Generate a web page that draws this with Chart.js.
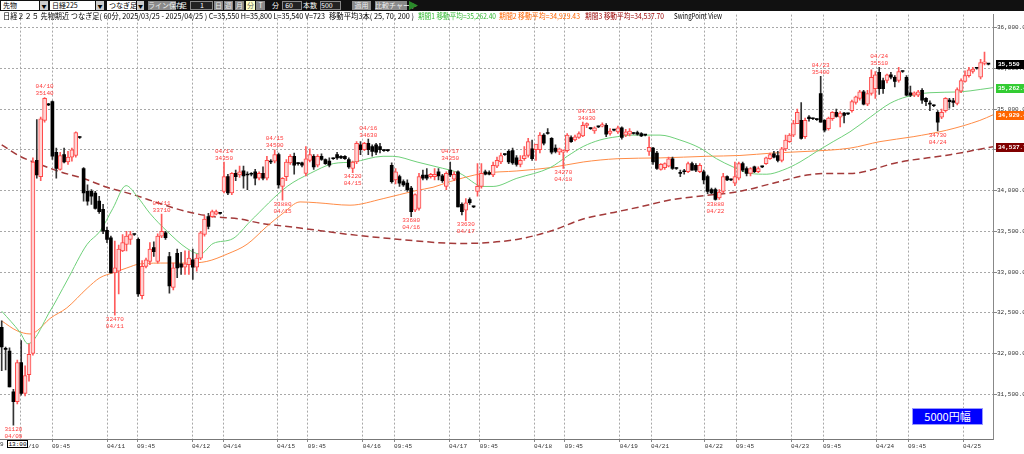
<!DOCTYPE html>
<html>
<head>
<meta charset="utf-8">
<script src="https://cdn.jsdelivr.net/npm/chart.js@4.4.1/dist/chart.umd.min.js"></script>
<style>
html, body { margin: 0; padding: 0; background: #fff; width: 1024px; height: 454px; overflow: hidden; font-family: "Noto Sans CJK JP", sans-serif; }
#tb { position: absolute; left: 0; top: 0; width: 1024px; height: 11px; background: #111; }
#tb div { position: absolute; top: 1px; height: 9px; font-size: 7px; line-height: 9px; white-space: nowrap; box-sizing: border-box; }
#tb .sel { background: #fff; color: #000; padding-left: 2px; }
#tb .dd { background: #ccc; color: #000; text-align: center; font-size: 5px; }
#tb .btn { background: #8a8a8a; color: #eee; text-align: center; }
#tb .on { background: #ffffc8; color: #666; text-align: center; }
#tb .lab { color: #fff; }
#tb .inp { background: #222; border: 1px solid #888; color: #fff; text-align: right; line-height: 7px; padding-right: 8px; }
#wrap { position: absolute; left: 0; top: 11px; width: 1024px; height: 443px; }
.hdr { position: absolute; top: 11px; font-size: 8px; line-height: 9px; white-space: nowrap; transform-origin: 0 0; }
#box13 { position: absolute; left: 7px; top: 440px; width: 21px; height: 8px; border: 1px solid #000; background: #fff; font: 6px "Liberation Mono", monospace; line-height: 8px; text-align: center; box-sizing: border-box; }
#nine { position: absolute; left: 0; top: 441px; font: 6px "Liberation Mono", monospace; color: #333; }
#haba { position: absolute; left: 912px; top: 408px; width: 71px; height: 17px; background: #0000ff; color: #fff; border: 1px solid #9999ff; box-sizing: border-box; font-size: 11px; line-height: 15px; text-align: center; }
</style>
</head>
<body>
<div id="tb">
  <div class="sel" style="left:1px;width:38px">先物</div>
  <div class="dd" style="left:40px;width:8px">▼</div>
  <div class="sel" style="left:50px;width:45px">日経225</div>
  <div class="dd" style="left:96px;width:8px">▼</div>
  <div class="sel" style="left:107px;width:29px">つなぎ足</div>
  <div class="dd" style="left:137px;width:7px">▼</div>
  <div class="btn" style="left:148px;width:28px">ライン保存</div>
  <div class="lab" style="left:180px">足</div>
  <div class="inp" style="left:190px;width:23px">1</div>
  <div class="btn" style="left:214px;width:9px">日</div>
  <div class="btn" style="left:224px;width:9px">週</div>
  <div class="btn" style="left:235px;width:9px">月</div>
  <div class="on" style="left:246px;width:9px">分</div>
  <div class="btn" style="left:256px;width:9px">T</div>
  <div class="lab" style="left:272px">分</div>
  <div class="inp" style="left:282px;width:20px">60</div>
  <div class="lab" style="left:303px">本数</div>
  <div class="inp" style="left:320px;width:21px">500</div>
  <div class="btn" style="left:352px;width:19px">適用</div>
  <div class="btn" style="left:375px;width:32px">比較チャート</div>
  <div style="left:409px;width:9px;background:#2a8a2a;clip-path:polygon(0 0,100% 50%,0 100%)"></div>
</div>

<div id="wrap"><canvas id="c" width="1024" height="443"></canvas></div>

<span class="hdr" data-x0="3" data-x1="325" style="color:#000">日経２２５ 先物期近 つなぎ足( 60分, 2025/03/25 - 2025/04/25 ) C=35,550 H=35,800 L=35,540 V=723</span>
<span class="hdr" data-x0="329" data-x1="414" style="color:#000">移動平均3本( 25, 70, 200 )</span>
<span class="hdr" data-x0="418" data-x1="496" style="color:#33bb33">期間1 移動平均=35,262.40</span>
<span class="hdr" data-x0="499" data-x1="580" style="color:#ff6600">期間2 移動平均=34,929.43</span>
<span class="hdr" data-x0="585" data-x1="664" style="color:#990000">期間3 移動平均=34,537.70</span>
<span class="hdr" data-x0="674" data-x1="722" style="color:#000">SwingPoint View</span>

<div id="nine">9</div>
<div id="box13">13:00</div>
<div id="haba">5000円幅</div>

<script>
// 60-minute candles, oldest first (one entry per bar)
const opens = [
  32320,32050,32030,31530,31410,31890,31510,31740,32000,34370,34170,34860,35050,35090,34470,34260,34440,34350,34410,34430,
  34650,34270,33990,33990,33970,33870,33770,33510,33420,32990,33010,33260,33340,33400,33460,33400,32710,33070,33130,33300,
  33130,33440,33480,33190,32810,33230,33100,33060,33090,33150,33060,33170,33460,33680,33680,33710,33720,33990,34170,33970,
  34210,34190,34240,34190,34200,34230,34150,34210,34150,34350,34360,34440,34050,34170,34340,34420,34330,34340,34210,34370,
  34420,34310,34420,34380,34360,34390,34440,34420,34420,34380,34270,34350,34560,34500,34580,34540,34560,34540,34490,34490,
  34310,34130,34170,34110,34090,34030,33760,33780,34190,34190,34170,34170,34230,34180,34050,34250,34140,34230,33830,33760,
  33890,33800,33990,34050,34230,34220,34190,34300,34350,34440,34480,34490,34400,34320,34390,34430,34510,34500,34500,34680,
  34700,34640,34520,34470,34470,34490,34650,34620,34650,34670,34800,34760,34730,34780,34790,34800,34700,34740,34720,34770,
  34680,34690,34700,34710,34700,34680,34480,34520,34460,34260,34280,34300,34390,34270,34210,34230,34230,34330,34310,34230,
  34230,34170,34010,34010,33910,33990,34170,34130,34090,34150,34330,34270,34210,34290,34230,34290,34330,34390,34450,34430,
  34370,34510,34600,34680,34820,34860,34660,34900,34880,34870,35190,34860,34760,34880,34960,34900,34950,34940,34980,35080,
  35130,35210,35060,35190,35250,35450,35350,35350,35420,35390,35350,35460,35390,35200,35170,35170,35230,35130,35060,35040,
  34960,34900,34980,35110,35100,35070,35220,35340,35410,35460,35500,35390,35560,35550
];
const highs = [
  32400,32080,32070,31560,31920,32160,31850,32120,34400,34870,34900,35140,35070,35100,34520,34470,34520,34480,34520,34720,
  34660,34280,34070,34010,33990,33930,33830,33550,33440,33380,33330,33460,33500,33500,33470,33420,33140,33170,33360,33370,
  33470,33710,33500,33240,33110,33280,33240,33260,33260,33280,33220,33500,33690,33720,33760,33760,33730,34350,34200,34220,
  34250,34300,34300,34230,34220,34260,34230,34290,34420,34380,34500,34460,34160,34380,34440,34460,34340,34350,34540,34510,
  34440,34440,34450,34390,34400,34400,34470,34430,34430,34400,34360,34600,34600,34590,34630,34560,34580,34580,34500,34500,
  34340,34270,34190,34130,34130,34050,33960,34210,34250,34270,34210,34270,34270,34200,34230,34350,34230,34240,33850,33900,
  33910,33810,34330,34330,34250,34240,34350,34410,34460,34450,34500,34520,34430,34430,34540,34640,34620,34560,34710,34700,
  34760,34650,34560,34520,34500,34700,34670,34680,34720,34840,34830,34770,34780,34790,34830,34820,34760,34750,34790,34780,
  34750,34760,34710,34730,34710,34690,34660,34530,34480,34330,34340,34410,34410,34280,34250,34260,34350,34350,34330,34330,
  34250,34190,34030,34030,34010,34210,34180,34140,34350,34350,34350,34290,34280,34300,34290,34300,34410,34460,34480,34480,
  34530,34680,34700,34860,35000,35080,34890,34920,34890,34880,35400,34870,34900,34970,35000,34970,34960,34950,35110,35160,
  35230,35230,35230,35480,35460,35510,35380,35430,35450,35410,35510,35470,35410,35280,35210,35230,35250,35140,35100,35050,
  34980,35000,35140,35130,35130,35260,35370,35470,35510,35510,35510,35610,35700,35560
];
const lows = [
  31790,31800,31590,31120,31380,31490,31480,31660,31980,34150,34120,34840,35040,34380,34150,34250,34340,34320,34360,34410,
  34640,33870,33820,33830,33770,33720,33470,33360,32990,32470,32730,33250,33260,33340,33450,32700,32670,33050,33090,33190,
  33110,33420,33400,32740,32780,32930,32970,32970,32970,32910,33010,33150,33440,33530,33670,33700,33710,33970,33950,33950,
  34120,34160,34030,34010,34180,34070,34130,34130,34130,34330,34340,34030,33880,34120,34320,34200,34310,34290,34180,34350,
  34260,34290,34370,34320,34290,34380,34380,34390,34380,34270,34220,34330,34440,34490,34440,34420,34440,34460,34480,34480,
  34090,34080,34050,34050,33990,33680,33740,33760,34130,34130,34150,34130,34130,34100,34010,34170,34120,33800,33700,33630,
  33830,33790,33930,34030,34190,34190,34170,34280,34330,34430,34330,34320,34300,34290,34370,34410,34370,34370,34460,34560,
  34690,34450,34460,34440,34270,34470,34590,34610,34640,34660,34770,34750,34700,34770,34780,34660,34680,34730,34700,34630,
  34660,34670,34690,34680,34660,34670,34430,34320,34260,34250,34260,34290,34260,34260,34170,34200,34220,34250,34230,34220,
  34080,33960,33960,33880,33890,33970,34120,34120,34060,34130,34230,34180,34180,34220,34220,34280,34320,34380,34400,34350,
  34350,34490,34590,34660,34820,34630,34640,34850,34870,34860,34840,34720,34740,34860,34900,34780,34830,34930,34960,35060,
  35110,35050,35040,35170,35130,35180,35190,35320,35370,35270,35330,35450,35160,35150,35150,35150,35070,35040,34980,35030,
  34730,34880,34960,35010,35030,35050,35200,35330,35390,35440,35490,35370,35540,35540
];
const closes = [
  32080,32050,31590,31410,31890,31510,31730,31990,34350,34190,34880,35130,35050,34420,34270,34430,34350,34410,34500,34710,
  34650,33970,33870,33930,33780,33740,33500,33400,32990,33050,33280,33360,33440,33460,33460,32730,33070,33150,33280,33250,
  33440,33500,33420,32830,33050,33050,33060,33100,33170,33060,33170,33480,33650,33560,33740,33740,33720,34170,33970,34210,
  34170,34230,34180,34190,34200,34150,34210,34150,34370,34350,34440,34070,34150,34350,34420,34310,34330,34310,34390,34440,
  34290,34420,34380,34330,34310,34390,34400,34400,34390,34290,34350,34580,34500,34580,34500,34480,34470,34500,34490,34490,
  34110,34230,34090,34070,34010,33740,33950,34170,34150,34150,34200,34200,34180,34120,34210,34190,34200,33800,33740,33850,
  33850,33800,34050,34210,34200,34200,34310,34370,34430,34440,34350,34340,34320,34370,34430,34600,34390,34570,34680,34580,
  34700,34470,34480,34510,34490,34680,34600,34660,34700,34800,34820,34760,34770,34780,34810,34690,34730,34740,34770,34650,
  34720,34730,34700,34690,34670,34680,34530,34350,34270,34320,34330,34390,34270,34270,34210,34230,34330,34250,34250,34310,
  34130,33990,33970,33890,33980,34170,34130,34130,34170,34330,34250,34210,34270,34230,34270,34290,34400,34440,34410,34370,
  34510,34620,34680,34820,34960,34640,34860,34880,34880,34870,34840,34740,34890,34960,34910,34950,34920,34940,35090,35150,
  35210,35060,35190,35390,35420,35250,35250,35420,35390,35340,35460,35460,35170,35170,35200,35210,35110,35090,35060,35040,
  34840,34960,35130,35090,35080,35240,35350,35410,35480,35490,35500,35570,35580,35550
];

// moving averages: bar position / value
const ma25Idx = [0,4.7,6.7,12.4,16.7,21.9,25.2,28.5,31.9,34.7,38,42.4,47.5,50.9,54.2,59.3,63.7,73.2,79.1,85,90.1,97.8,100.3,106.5,111.6,117.5,123.4,126,132.1,140.6,145,149.1,153.4,157.8,161.9,168.8,173.9,179.1,183.3,187.5,191.9,196.2,200.3,204.7,209,213.2,217.5,222.7,227.8,232,238,245.7,250.9,254.2];
const ma25Val = [32520,32260,32120,32520,32890,33340,33500,33780,34060,33930,33720,33500,33290,33220,33350,33410,33620,34050,34210,34330,34350,34420,34420,34350,34290,34210,34050,34050,34150,34280,34420,34540,34620,34660,34680,34680,34620,34520,34390,34290,34210,34200,34250,34350,34480,34600,34720,34900,35070,35150,35200,35210,35240,35262];
const ma75Idx = [0,3.9,7.3,9.1,12.4,16.7,21.9,25.2,28.5,32.1,35.5,42.4,47.5,52.6,57.8,62.9,68,72.1,76.5,80.8,89.3,97.8,106.3,110.6,115,123.4,132.1,140.6,149.1,157.8,168.8,180.8,189.3,197.8,206.5,217.5,225.2,233.7,242.3,250.8,254.2];
const ma75Val = [32400,32280,32240,32280,32430,32560,32800,32930,32990,33050,33100,33110,33110,33130,33220,33340,33560,33720,33860,33850,33820,33900,34000,34040,34110,34210,34240,34280,34350,34390,34400,34420,34430,34460,34480,34520,34600,34660,34740,34860,34929];
const ma200Idx = [0,4.7,9.8,15,20.8,27,33.7,40.6,47.5,54.2,61.1,66.2,76.5,89.3,102.1,117.5,132.1,140.6,149.1,157.8,163.7,172.1,180.8,189.3,197.8,206.5,211.6,217.5,230.3,243.2,254.2];
const ma200Val = [34560,34420,34320,34230,34150,34040,33950,33840,33740,33680,33650,33600,33540,33460,33400,33350,33400,33500,33650,33740,33800,33890,33940,33990,34090,34190,34210,34210,34350,34440,34538];

// x axis labels (bar position of each label)
const tickIdx = [4.9,12.9,27.0,34.7,48.8,56.8,70.6,78.5,92.6,100.6,114.7,122.6,136.5,144.4,158.5,166.5,180.3,188.3,202.4,210.6,224.2,232.4,246.5];
const tickText = ['04/10','09:45','04/11','09:45','04/12','04/14','04/15','09:45','04/16','09:45','04/17','09:45','04/18','09:45','04/19','04/21','04/22','09:45','04/23','09:45','04/24','09:45','04/25'];

// swing points: bar, High/Low, date, price
const swingIdx = [11,3,29,41,57,70,72,90,94,105,115,119,144,150,183,210,225,240];
const swingType = ['H','L','L','H','H','H','L','L','H','L','H','L','L','H','L','H','H','L'];
const swingDate = ['04/10','04/09','04/11','04/11','04/14','04/15','04/15','04/15','04/16','04/16','04/17','04/17','04/18','04/18','04/22','04/23','04/24','04/24'];
const swingVal = [35140,31120,32470,33710,34350,34500,33880,34220,34630,33680,34350,33630,34270,34830,33880,35400,35510,34730];

// price tags on the right axis
const tagVal = [35550, 35262.4, 34929.4, 34537.7];
const tagColor = ['#000000', '#33cc33', '#ff6600', '#800000'];
const tagText = ['#ffffff', '#ffffff', '#ffffff', '#ffffff'];

const upWick = [], dnWick = [], upBody = [], dnBody = [];
closes.forEach((c, i) => {
  const o = opens[i];
  const up = c > o;
  (up ? upWick : dnWick).push({ x: i, y: [lows[i], highs[i]] });
  (up ? upBody : dnBody).push({ x: i, y: [o, c] });
});

const pts = (idx, val) => idx.map((x, k) => ({ x: x, y: val[k] }));

const monoFont = { family: '"Liberation Mono", monospace', size: 6 };

// swing point labels + right side price tags
const overlayPlugin = {
  id: 'overlay',
  afterDatasetsDraw(chart) {
    const ctx = chart.ctx;
    const xs = chart.scales.x, ys = chart.scales.y;
    ctx.save();
    ctx.font = '6px "Liberation Mono", monospace';
    ctx.fillStyle = '#ff3b3b';
    ctx.textAlign = 'center';
    swingIdx.forEach((idx, k) => {
      const x = xs.getPixelForValue(idx);
      const y = ys.getPixelForValue(swingVal[k]);
      if (swingType[k] === 'H') {
        ctx.textBaseline = 'bottom';
        ctx.fillText(String(swingVal[k]), x, y - 1);
        ctx.fillText(swingDate[k], x, y - 8);
      } else {
        ctx.textBaseline = 'top';
        ctx.fillText(String(swingVal[k]), x, y + 1);
        ctx.fillText(swingDate[k], x, y + 8);
      }
    });
    ctx.restore();
  },
  afterDraw(chart) {
    const ctx = chart.ctx;
    const ys = chart.scales.y;
    ctx.save();
    ctx.font = 'bold 6px "Liberation Mono", monospace';
    ctx.textBaseline = 'middle';
    ctx.textAlign = 'left';
    tagVal.forEach((v, k) => {
      const y = Math.round(ys.getPixelForValue(v));
      ctx.fillStyle = tagColor[k];
      ctx.fillRect(996, y - 4, 28, 9);
      ctx.fillStyle = tagText[k];
      const s = k === 0 ? v.toLocaleString('en-US') : v.toLocaleString('en-US', { minimumFractionDigits: 1, maximumFractionDigits: 1 });
      ctx.fillText(s, 998, y + 0.5);
    });
    ctx.restore();
  }
};

new Chart(document.getElementById('c'), {
  type: 'bar',
  data: {
    datasets: [
      { type: 'line', data: pts(ma200Idx, ma200Val), borderColor: '#a33a3a', borderWidth: 1.5, borderDash: [7, 4], pointRadius: 0, cubicInterpolationMode: 'monotone', order: 5 },
      { type: 'line', data: pts(ma75Idx, ma75Val), borderColor: '#ff8c47', borderWidth: 1, pointRadius: 0, cubicInterpolationMode: 'monotone', order: 4 },
      { type: 'line', data: pts(ma25Idx, ma25Val), borderColor: '#6fd07a', borderWidth: 1, pointRadius: 0, cubicInterpolationMode: 'monotone', order: 3 },
      { data: upWick, backgroundColor: '#ff5c5c', barThickness: 1, grouped: false, order: 2 },
      { data: dnWick, backgroundColor: '#333333', barThickness: 1, grouped: false, order: 2 },
      { data: upBody, backgroundColor: '#ffd4d4', borderColor: '#ff4848', borderWidth: 1, borderSkipped: false, barThickness: 4, minBarLength: 1, grouped: false, order: 1 },
      { data: dnBody, backgroundColor: '#000000', barThickness: 3, minBarLength: 1, grouped: false, order: 1 }
    ]
  },
  options: {
    responsive: false,
    animation: false,
    events: [],
    layout: { padding: { top: 1, left: 0, right: 0, bottom: 0 } },
    plugins: { legend: { display: false }, tooltip: { enabled: false } },
    scales: {
      x: {
        type: 'linear',
        min: -0.436,
        max: 254.18,
        offset: false,
        grid: { offset: false, color: '#a8a8a8', tickColor: '#888', tickLength: 3 },
        border: { color: '#777', dash: [2, 2] },
        ticks: {
          autoSkip: false, maxRotation: 0, align: 'start', padding: 1,
          font: monoFont, color: '#333',
          callback: (v, i) => tickText[i]
        },
        afterBuildTicks: s => { s.ticks = tickIdx.map(v => ({ value: v })); },
        afterFit: s => { s.height = 15; }
      },
      y: {
        position: 'right',
        min: 30951,
        max: 36158.5,
        grid: { color: '#a8a8a8', tickColor: '#888', tickLength: 4 },
        border: { color: '#888', dash: [2, 2] },
        ticks: {
          padding: 0, font: monoFont, color: '#333',
          callback: v => v.toLocaleString('en-US', { minimumFractionDigits: 1, maximumFractionDigits: 1 })
        },
        afterBuildTicks: s => {
          const t = [];
          for (let v = 31500; v <= 36000; v += 500) t.push({ value: v });
          s.ticks = t;
        },
        afterFit: s => { s.width = 31; }
      }
    }
  },
  plugins: [overlayPlugin]
});

// squeeze header strings into their measured spans
document.querySelectorAll('.hdr').forEach(el => {
  const x0 = +el.dataset.x0, x1 = +el.dataset.x1;
  el.style.left = x0 + 'px';
  const w = el.getBoundingClientRect().width;
  el.style.transform = 'scaleX(' + ((x1 - x0) / w) + ')';
});
</script>
</body>
</html>
